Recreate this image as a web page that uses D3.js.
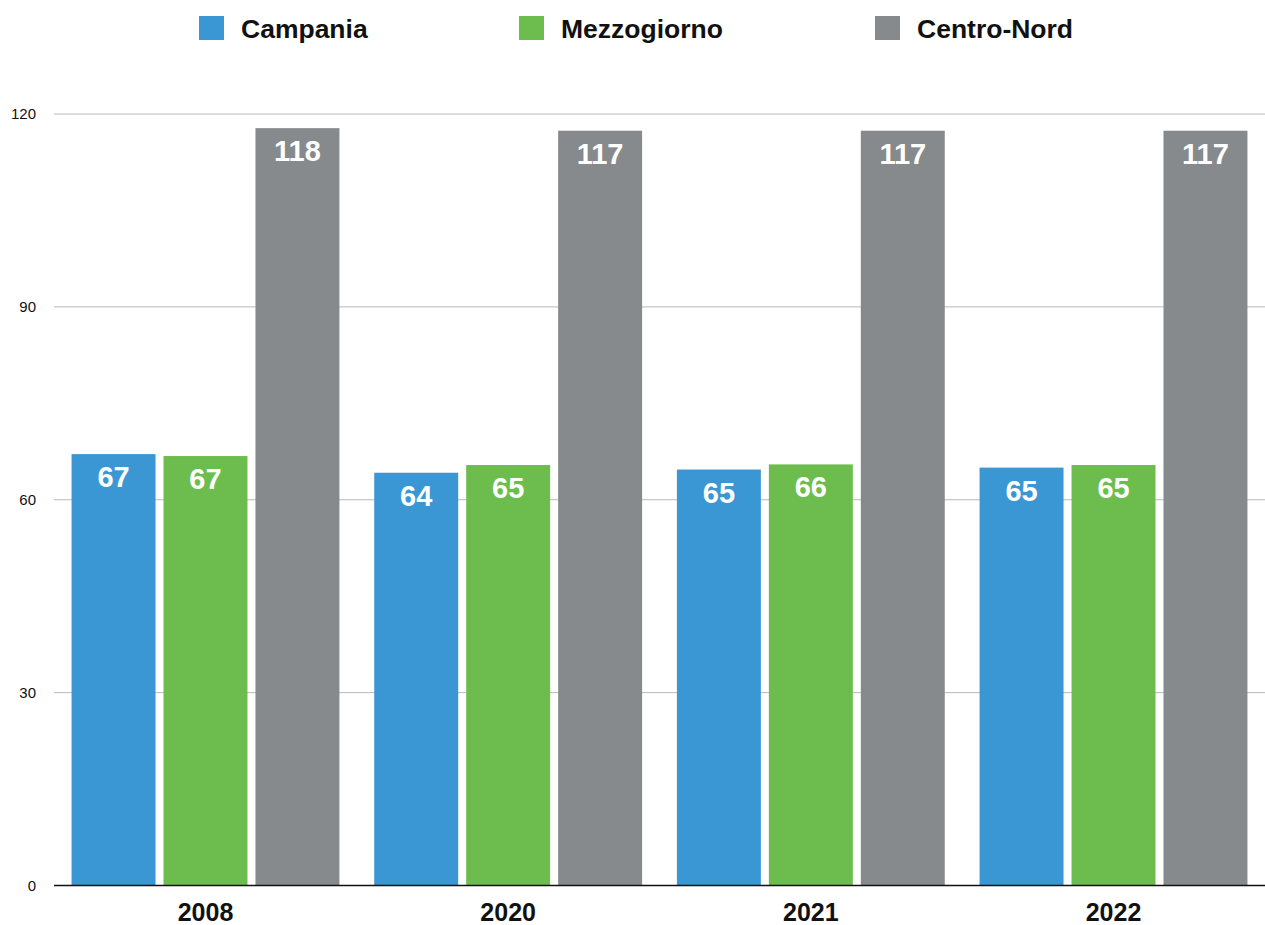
<!DOCTYPE html>
<html>
<head>
<meta charset="utf-8">
<script src="https://cdn.jsdelivr.net/npm/d3@7"></script>
<style>
  body { margin: 0; background: #fff; }
  svg { display: block; font-family: "Helvetica Neue", Helvetica, Arial, "Liberation Sans", sans-serif; }
</style>
</head>
<body>
<svg id="chart" width="1265" height="925"></svg>
<script>
const years = ['2008', '2020', '2021', '2022'];
const series = ['Campania', 'Mezzogiorno', 'Centro-Nord'];
const campania = [67.1, 64.2, 64.7, 65.0];
const mezzogiorno = [66.8, 65.4, 65.5, 65.4];
const centroNord = [117.8, 117.4, 117.4, 117.4];
const yTicks = [0, 30, 60, 90, 120];
const colorList = ['#3a97d4', '#6dbd4e', '#878a8c'];

const values = { 'Campania': campania, 'Mezzogiorno': mezzogiorno, 'Centro-Nord': centroNord };

const svg = d3.select('#chart');
const plotLeft = 54, plotRight = 1265, plotTop = 114, plotBottom = 885.5;

const x0 = d3.scaleBand().domain(years).range([plotLeft, plotRight])
  .paddingInner(0.115).paddingOuter(0.058);
const x1 = d3.scaleBand().domain(series).range([0, x0.bandwidth()]).paddingInner(0.087);
const y = d3.scaleLinear().domain([0, 120]).range([plotBottom, plotTop]);
const color = d3.scaleOrdinal().domain(series).range(colorList);

// gridlines
svg.append('g')
  .selectAll('line')
  .data(yTicks.filter(d => d > 0))
  .join('line')
  .attr('x1', plotLeft).attr('x2', plotRight)
  .attr('y1', d => y(d)).attr('y2', d => y(d))
  .attr('stroke', '#b8b8b8').attr('stroke-width', 1);

// y labels
svg.append('g')
  .selectAll('text')
  .data(yTicks)
  .join('text')
  .attr('x', 36)
  .attr('y', d => y(d))
  .attr('dy', '0.35em')
  .attr('text-anchor', 'end')
  .attr('font-size', 15)
  .attr('fill', '#111')
  .text(d => d);

// bars
const groups = svg.append('g')
  .selectAll('g')
  .data(years)
  .join('g')
  .attr('transform', d => `translate(${x0(d)},0)`);

groups.selectAll('rect')
  .data((yr, i) => series.map(s => ({ key: s, value: values[s][i] })))
  .join('rect')
  .attr('x', d => x1(d.key))
  .attr('width', x1.bandwidth())
  .attr('y', d => y(d.value))
  .attr('height', d => y(0) - y(d.value))
  .attr('fill', d => color(d.key));

groups.selectAll('text')
  .data((yr, i) => series.map(s => ({ key: s, value: values[s][i] })))
  .join('text')
  .attr('x', d => x1(d.key) + x1.bandwidth() / 2)
  .attr('y', d => y(d.value) + 33)
  .attr('text-anchor', 'middle')
  .attr('font-size', 29)
  .attr('font-weight', 'bold')
  .attr('fill', '#fff')
  .text(d => Math.round(d.value));

// baseline
svg.append('line')
  .attr('x1', plotLeft).attr('x2', plotRight)
  .attr('y1', y(0)).attr('y2', y(0))
  .attr('stroke', '#111').attr('stroke-width', 1.5);

// x labels
svg.append('g')
  .selectAll('text')
  .data(years)
  .join('text')
  .attr('x', d => x0(d) + x0.bandwidth() / 2)
  .attr('y', 921)
  .attr('text-anchor', 'middle')
  .attr('font-size', 25)
  .attr('font-weight', 'bold')
  .attr('fill', '#111')
  .text(d => d);

// legend
const legendX = [199, 519, 875];
const legend = svg.append('g')
  .selectAll('g')
  .data(series)
  .join('g')
  .attr('transform', (d, i) => `translate(${legendX[i]},16)`);

legend.append('rect')
  .attr('width', 25).attr('height', 24)
  .attr('fill', d => color(d));

legend.append('text')
  .attr('x', 42)
  .attr('y', 12)
  .attr('dy', '0.36em')
  .attr('font-size', 26.5)
  .attr('font-weight', 'bold')
  .attr('fill', '#111')
  .text(d => d);
</script>
</body>
</html>
